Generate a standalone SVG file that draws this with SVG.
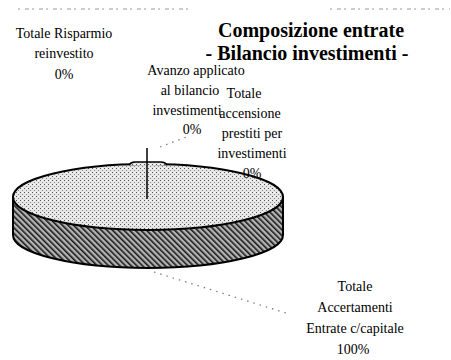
<svg xmlns="http://www.w3.org/2000/svg" width="451" height="360" viewBox="0 0 451 360">
<style>
  .lbl { font-family: "Liberation Serif", "Times New Roman", serif; font-size: 14px; fill: #000; text-anchor: middle; }
  .ttl { font-family: "Liberation Serif", "Times New Roman", serif; font-size: 20px; font-weight: bold; fill: #000; text-anchor: middle; }
  .leader { stroke: #777; stroke-width: 1.2; stroke-dasharray: 1.5 5; fill: none; }
  .edge { stroke: #000; stroke-width: 2; }
  .artifact { stroke: #9a9a9a; stroke-width: 1; stroke-dasharray: 2 5 4 3; fill: none; }
</style>
<defs>
  <pattern id="dots" width="4" height="4" patternUnits="userSpaceOnUse">
    <rect width="4" height="4" fill="#e6e6e6"/>
    <rect x="0" y="0" width="1" height="1" fill="#555"/>
    <rect x="2" y="2" width="1" height="1" fill="#888"/>
    <rect x="2" y="0" width="1" height="1" fill="#fff"/>
  </pattern>
  <pattern id="hatch" width="4" height="4" patternUnits="userSpaceOnUse" patternTransform="rotate(-45)">
    <rect width="4" height="4" fill="#b4b4b4"/>
    <rect x="0" y="0" width="1.6" height="4" fill="#1a1a1a"/>
  </pattern>
</defs>
<rect width="451" height="360" fill="#fff"/>
<line class="artifact" x1="18" y1="9" x2="189" y2="9"/>
<line class="artifact" x1="330" y1="9" x2="450" y2="9"/>

<g id="title">
  <text class="ttl" x="311" y="37">Composizione entrate</text>
  <text class="ttl" x="307" y="60">- Bilancio investimenti -</text>
</g>

<g id="pie">
  <path d="M13,197 L13,235 A135,33 0 0 0 283,235 L283,197 Z" fill="url(#hatch)" class="edge"/>
  <ellipse cx="148" cy="197" rx="135" ry="33" fill="url(#dots)" class="edge"/>
  <path d="M129,165 Q131,162 135,162 L161,162 Q165,162 167,165" fill="url(#dots)" stroke="#000" stroke-width="1.5"/>
  <line x1="147" y1="148" x2="147" y2="199" stroke="#000" stroke-width="1.5"/>
</g>

<g id="connectors">
  <line class="leader" x1="160" y1="147" x2="189" y2="136"/>
  <line class="leader" x1="154" y1="272" x2="286" y2="313"/>
</g>

<g id="label-risparmio">
  <text class="lbl" x="64" y="38">Totale Risparmio</text>
  <text class="lbl" x="64" y="58">reinvestito</text>
  <text class="lbl" x="64" y="79">0%</text>
</g>

<g id="label-avanzo">
  <text class="lbl" x="196" y="75">Avanzo applicato</text>
  <text class="lbl" x="190" y="95">al bilancio</text>
  <text class="lbl" x="187" y="115">investimenti</text>
  <text class="lbl" x="192" y="134">0%</text>
</g>

<g id="label-prestiti">
  <text class="lbl" x="244" y="98">Totale</text>
  <text class="lbl" x="250" y="118">accensione</text>
  <text class="lbl" x="252" y="138">prestiti per</text>
  <text class="lbl" x="252" y="158">investimenti</text>
  <text class="lbl" x="252" y="178">0%</text>
</g>

<g id="label-accertamenti">
  <text class="lbl" x="355" y="291">Totale</text>
  <text class="lbl" x="355" y="312">Accertamenti</text>
  <text class="lbl" x="355" y="333">Entrate c/capitale</text>
  <text class="lbl" x="353" y="354">100%</text>
</g>
</svg>
